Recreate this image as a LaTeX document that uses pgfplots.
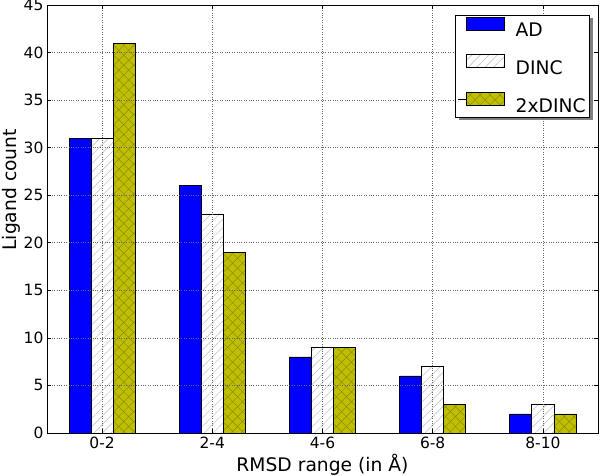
\documentclass[border=0pt]{standalone}
\usepackage{fontspec}
\setmainfont{DejaVu Sans}
\usepackage{pgfplots}
\pgfplotsset{compat=1.18}
\usetikzlibrary{patterns.meta}
\definecolor{adblue}{RGB}{0,0,255}
\definecolor{olivey}{RGB}{191,191,0}
\definecolor{hatchgray}{RGB}{200,200,200}
\definecolor{hatchol}{RGB}{140,140,20}
\begin{document}
\begin{tikzpicture}
% legend shadow
\fill[black!50] (412pt,313pt) rectangle (546pt,415pt);
\begin{axis}[
  at={(0,0)}, anchor=south west,
  scale only axis, width=551pt, height=428pt,
  xmin=-0.5, xmax=4.5, ymin=0, ymax=45,
  xtick={0,1,2,3,4}, xticklabels={0-2,2-4,4-6,6-8,8-10},
  ytick={0,5,...,45},
  ybar, bar width=0.2, bar shift=0pt,
  axis on top,
  tick align=inside, major tick length=4pt,
  tick style={black, line width=0.6pt},
  axis line style={line width=0.8pt},
  grid=major, major grid style={dotted, black!60, line width=0.6pt},
  /pgf/number format/assume math mode=true,
  ticklabel style={font=\fontsize{15.5}{18}\selectfont},
  xticklabel style={anchor=base, yshift=-16pt},
  xlabel={RMSD range (in Å)},
  xlabel style={at={(axis description cs:0.5,-0.0888)}, anchor=base, font=\fontsize{18.7}{21}\selectfont},
  ylabel={Ligand count},
  ylabel style={at={(axis description cs:-0.0653,0.568)}, anchor=center, font=\fontsize{18.7}{21}\selectfont},
  legend image code/.code={\path[draw=none,fill=none] (0pt,6pt) -- (46pt,6pt);\draw[#1] (8pt,0.5pt) rectangle (46pt,13.5pt);},
  legend cell align=left,
  legend style={at={(axis description cs:0.98548,0.97664)}, anchor=north east,
    draw=black, line width=0.8pt, fill=white,
    font=\fontsize{18.7}{21}\selectfont,
    row sep=14pt, inner xsep=2pt, inner ysep=1.5pt,
    nodes={inner xsep=2pt, inner ysep=2pt},
    /tikz/every odd column/.append style={column sep=9pt}},
]
\addplot[fill=adblue, draw=black, line width=0.8pt]
  coordinates {(-0.2,31) (0.8,26) (1.8,8) (2.8,6) (3.8,2)};
\addlegendentry{AD}
\addplot[draw=black, line width=0.8pt, pattern color=hatchgray,
  pattern={Lines[angle=45,distance=6pt,line width=0.6pt]}]
  coordinates {(0,31) (1,23) (2,9) (3,7) (4,3)};
\addlegendentry{DINC}
\addplot[preaction={fill=olivey}, draw=black, line width=0.8pt, pattern color=hatchol,
  pattern={Hatch[angle=45,distance=7pt,line width=0.5pt]}]
  coordinates {(0.2,41) (1.2,19) (2.2,9) (3.2,3) (4.2,2)};
\addlegendentry{2xDINC}
\end{axis}
\pgfresetboundingbox
\path[use as bounding box] (-47pt,-43pt) rectangle (553pt,433pt);
\end{tikzpicture}
\end{document}
